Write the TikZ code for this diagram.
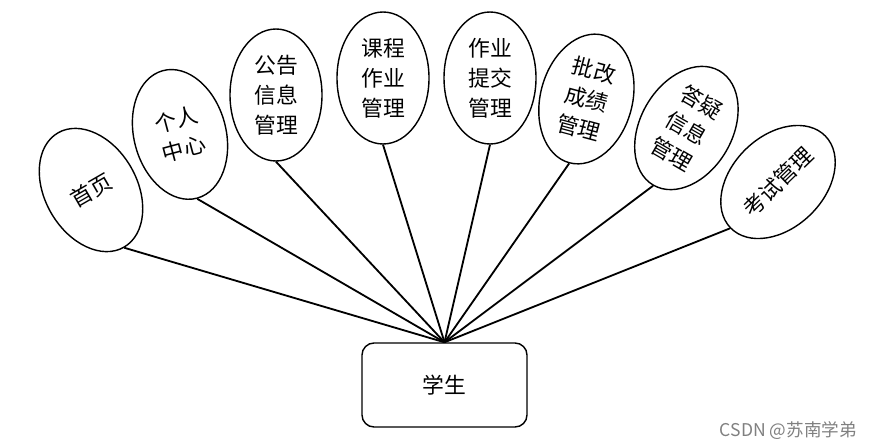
\documentclass[tikz,border=0pt]{standalone}
\usepackage{fontspec}
\newfontfamily\cjk{Noto Sans CJK SC}
\usetikzlibrary{shapes.geometric}
\begin{document}
\begin{tikzpicture}[
  func/.style={ellipse, draw, fill=white, line width=1pt, minimum width=2.3cm, minimum height=3.3cm,
    inner sep=0pt, align=center, font=\cjk\fontsize{15.5}{21.3}\selectfont},
  role/.style={draw, fill=white, line width=1pt, rounded corners=0.3cm, minimum width=4.125cm,
    minimum height=2.1cm, font=\cjk\fontsize{15.5}{21.3}\selectfont},
  link/.style={line width=1.3pt}]
\useasboundingbox (0,0) rectangle (21.8,11.1);
\node[role] (xuesheng) at (11.1125,1.475) {学生};
\node[func,rotate=30] (shouye) at (2.275,6.35) {首页};
\node[func,rotate=15] (geren) at (4.5,7.74) {个人\\中心};
\node[func] (gonggao) at (6.9,8.725) {公告\\信息\\管理};
\node[func] (kecheng) at (9.575,9.15) {课程\\作业\\管理};
\node[func] (tijiao) at (12.25,9.15) {作业\\提交\\管理};
\node[func,rotate=-15] (pigai) at (14.66,8.625) {批改\\成绩\\管理};
\node[func,rotate=-30] (dayi) at (17.16,7.9) {答疑\\信息\\管理};
\node[func,rotate=44,minimum width=3.3cm,minimum height=2.3cm] (kaoshi) at (19.45,6.55) {考试管理};
\draw[link] (shouye.south) -- (xuesheng.north);
\draw[link] (geren.south) -- (xuesheng.north);
\draw[link] (gonggao.south) -- (xuesheng.north);
\draw[link] (kecheng.south) -- (xuesheng.north);
\draw[link] (tijiao.south) -- (xuesheng.north);
\draw[link] (pigai.south) -- (xuesheng.north);
\draw[link] (dayi.south) -- (xuesheng.north);
\draw[link] (kaoshi.west) -- (xuesheng.north);
\node[font=\cjk\fontsize{12.5}{15}\selectfont, text=black!50, anchor=east, inner sep=0pt] (csdn) at (21.425,0.325) {CSDN @苏南学弟};
\end{tikzpicture}
\end{document}
